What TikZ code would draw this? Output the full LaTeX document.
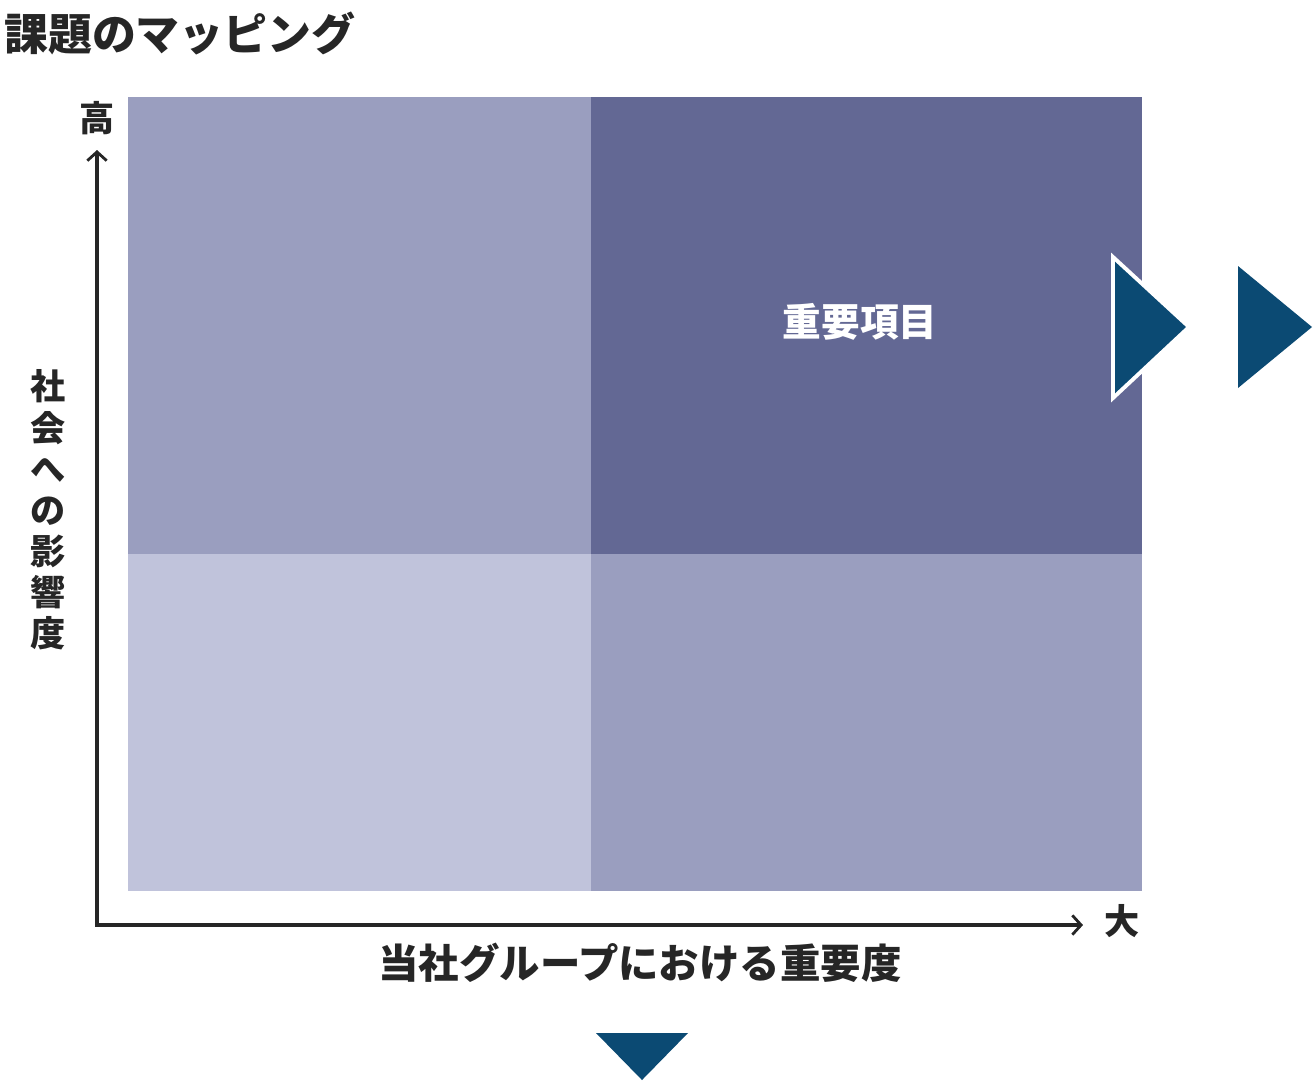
\documentclass[tikz,border=0pt]{standalone}
\usepackage{fontspec}
\setmainfont{Noto Sans CJK JP}
\usetikzlibrary{arrows.meta}
\definecolor{cellmid}{HTML}{9A9EBF}
\definecolor{celldark}{HTML}{636894}
\definecolor{celllight}{HTML}{C0C3DB}
\definecolor{markblue}{HTML}{0B4A73}
\definecolor{labelgray}{HTML}{262626}

\begin{document}
\begin{tikzpicture}[x=0.02cm, y=-0.02cm,
    cell/.style={inner sep=0pt, outer sep=0pt, minimum width=#1},
    axis/.style={line width=2pt, -{Straight Barb[length=5pt, width=11pt, line width=1.6pt]}, labelgray}]
    \useasboundingbox (0,0) rectangle (1314,1080);

    % title
    \node[anchor=west, text=labelgray, font=\fontsize{25}{28}\selectfont\bfseries] (title) at (-2,33) {課題のマッピング};

    % four quadrants
    \node[cell=9.26cm, minimum height=9.14cm, fill=cellmid] (ul) at (359.5,325.5) {};
    \node[cell=11.02cm, minimum height=9.14cm, fill=celldark] (ur) at (866.5,325.5) {};
    \node[cell=9.26cm, minimum height=6.74cm, fill=celllight] (ll) at (359.5,722.5) {};
    \node[cell=11.02cm, minimum height=6.74cm, fill=cellmid] (lr) at (866.5,722.5) {};

    \node[text=white, font=\fontsize{22}{24}\selectfont\bfseries] (key) at (860,322) {重要項目};

    % axes
    \coordinate (origin) at (97,925);
    \coordinate (ytip) at (97,150);
    \coordinate (xtip) at (1083,925);
    \draw[axis] (origin) -- (ytip);
    \draw[axis] ([xshift=-1pt]origin) -- (xtip);

    \node[text=labelgray, font=\fontsize{20}{22}\selectfont\bfseries] (high) at (97,118) {高};
    \node[text=labelgray, font=\fontsize{20}{22}\selectfont\bfseries] (large) at (1122,921) {大};
    \node[text=labelgray, font=\fontsize{23}{26}\selectfont\bfseries] (xlabel) at (640,963) {当社グループにおける重要度};
    \node[text=labelgray, align=center, font=\fontsize{20}{23.4}\selectfont\bfseries] (ylabel) at (48,510)
        {社\\会\\へ\\の\\影\\響\\度};

    % pointers
    \filldraw[markblue, draw=white, line width=2.2pt] (1113,257) -- (1189,327) -- (1113,398) -- cycle;
    \fill[markblue] (1238,266) -- (1312,327) -- (1238,388) -- cycle;
    \fill[markblue] (596,1033) -- (688,1033) -- (642,1080) -- cycle;
\end{tikzpicture}
\end{document}
